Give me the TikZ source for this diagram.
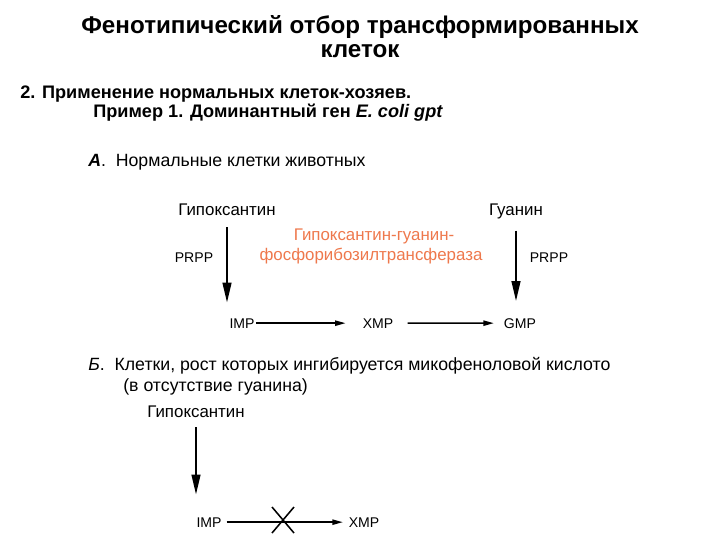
\documentclass[tikz,border=0pt]{standalone}
\usepackage{fontspec}
\setmainfont{Liberation Sans}
\usetikzlibrary{arrows.meta}
\definecolor{enzymecol}{RGB}{238,120,76}

\begin{document}
\begin{tikzpicture}[x=0.025cm,y=-0.025cm,
		every node/.style={inner sep=0pt,anchor=base},
		ttl/.style={font=\bfseries\fontsize{17.2}{20}\selectfont},
		sub/.style={font=\bfseries\fontsize{12.9}{15}\selectfont,anchor=base west},
		sect/.style={font=\fontsize{12.6}{15}\selectfont,anchor=base west},
		lbl/.style={font=\fontsize{12}{14}\selectfont},
		met/.style={font=\fontsize{10}{12}\selectfont},
		varr/.style={-{Triangle[length=0.5cm,width=0.22cm]},line width=1.4pt},
		harr/.style={-{Triangle[length=0.26cm,width=0.13cm]},line width=1.1pt}]
		\useasboundingbox (0,0) rectangle (720,540);
		% headings
		\node[ttl] (t1) at (360,33) {Фенотипический отбор трансформированных};
		\node[ttl] (t2) at (360,57) {клеток};
		\node[sub] (s1) at (20,98) {2. Применение нормальных клеток-хозяев.};
		\node[sub] (s2) at (93,117) {Пример 1. Доминантный ген \textit{E. coli gpt}};
		% A
		\node[sect] (secA) at (88,166) {\textbf{\textit{А}}.\ \ Нормальные клетки животных};
		\node[lbl] (hxa) at (227,215) {Гипоксантин};
		\node[lbl] (gua) at (516,215) {Гуанин};
		\node[lbl,text=enzymecol] (enz1) at (374,240) {Гипоксантин-гуанин-};
		\node[lbl,text=enzymecol] (enz2) at (371,260) {фосфорибозилтрансфераза};
		\node[met] (prppa) at (194,262) {PRPP};
		\node[met] (prppb) at (549,262) {PRPP};
		\node[met] (impa) at (242,328) {IMP};
		\node[met] (xmpa) at (378,328) {XMP};
		\node[met] (gmpa) at (520,328) {GMP};
		\draw[varr,shorten <=8.5pt,shorten >=11pt] (hxa.south) -- (hxa.south |- impa.north);
		\draw[varr,shorten <=8.5pt,shorten >=12pt] (gua.south) -- (gua.south |- gmpa.north);
		\draw[harr,shorten <=1pt,shorten >=12pt] (impa) -- (xmpa);
		\draw[harr,shorten <=10pt,shorten >=7pt] (xmpa) -- (gmpa);
		% B
		\node[sect] (secB) at (88,370) {\textit{Б}.\ \ Клетки, рост которых ингибируется микофеноловой кислото};
		\node[sect] (secB2) at (123,391) {(в отсутствие гуанина)};
		\node[lbl] (hxb) at (196,417) {Гипоксантин};
		\node[met] (impb) at (209,527) {IMP};
		\node[met] (xmpb) at (364,527) {XMP};
		\draw[varr,shorten <=7pt,shorten >=16pt] (hxb.south) -- (hxb.south |- impb.north);
		\draw[harr,shorten <=3.5pt,shorten >=4pt] (impb) -- (xmpb);
		\coordinate (blk) at (283,520);
		\draw[line width=1.1pt] (blk) ++(-11,-13) -- ++(22,26) (blk) ++(-11,13) -- ++(22,-26);
\end{tikzpicture}
\end{document}
